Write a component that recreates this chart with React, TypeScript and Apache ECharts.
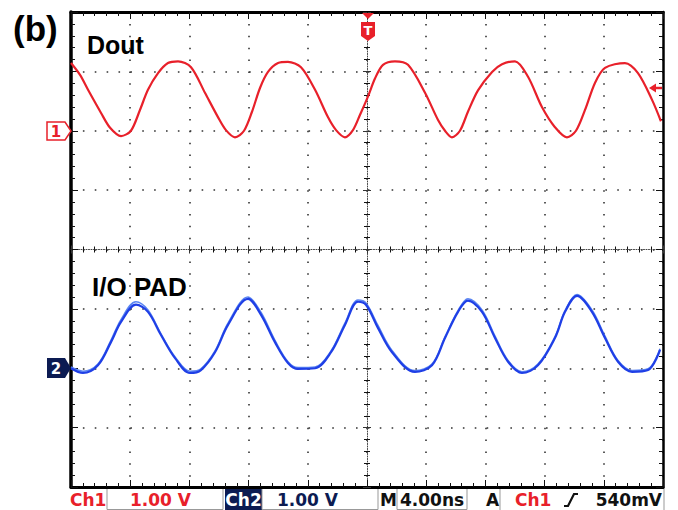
import React, { useEffect, useRef } from "react";
import * as echarts from "echarts";

// Time in ns (4 ns/div, trigger at centre), voltage in V (1 V/div)
const ch1Time = [-20.0, -19.39, -18.85, -17.97, -17.36, -16.62, -15.95, -15.34, -14.8, -14.12, -13.45, -12.77, -11.89, -10.95, -10.07, -9.53, -8.92, -8.31, -7.77, -7.23, -6.69, -6.01, -5.34, -4.46, -3.51, -2.64, -2.09, -1.49, -0.95, -0.47, 0.07, 0.54, 1.08, 1.89, 2.77, 3.92, 4.8, 5.27, 5.74, 6.28, 6.82, 7.5, 8.45, 9.12, 10.0, 10.88, 11.82, 12.7, 13.51, 14.12, 14.73, 15.41, 16.08, 17.43, 18.31, 19.26, 19.86];
const ch1Volt = [1.14, 0.94, 0.69, 0.3, 0.05, -0.09, 0.0, 0.35, 0.69, 0.97, 1.14, 1.17, 1.07, 0.64, 0.23, 0.01, -0.11, 0.0, 0.32, 0.72, 0.99, 1.14, 1.16, 1.07, 0.69, 0.23, 0.01, -0.11, 0.01, 0.27, 0.58, 0.88, 1.11, 1.17, 1.11, 0.64, 0.18, 0.0, -0.11, 0.0, 0.32, 0.68, 0.99, 1.12, 1.17, 0.91, 0.4, 0.06, -0.11, 0.0, 0.35, 0.81, 1.06, 1.14, 0.97, 0.52, 0.16];

const ch2Time = [-20.0, -19.19, -18.18, -17.3, -16.62, -15.61, -14.8, -13.92, -12.97, -11.96, -11.22, -10.27, -9.39, -8.04, -7.16, -6.22, -5.34, -4.66, -3.51, -2.43, -1.49, -0.61, -0.07, 0.74, 1.69, 3.24, 4.39, 5.27, 6.15, 6.82, 7.77, 8.65, 9.53, 10.47, 11.55, 12.7, 13.38, 14.19, 15.2, 16.08, 16.96, 17.91, 18.99, 19.8];
const ch2Volt = [0.0, -0.08, 0.05, 0.44, 0.78, 1.07, 0.95, 0.56, 0.17, -0.08, -0.03, 0.27, 0.73, 1.17, 0.9, 0.44, 0.09, -0.01, 0.0, 0.27, 0.73, 1.12, 1.07, 0.68, 0.27, -0.06, 0.05, 0.51, 0.95, 1.14, 0.95, 0.51, 0.11, -0.08, 0.05, 0.51, 0.95, 1.22, 0.95, 0.51, 0.11, -0.06, -0.03, 0.31];
const ch2GhostVolt = [0.02, -0.05, 0.07, 0.47, 0.82, 1.12, 0.98, 0.58, 0.19, -0.05, -0.01, 0.29, 0.76, 1.2, 0.94, 0.47, 0.11, 0.01, 0.02, 0.29, 0.76, 1.15, 1.1, 0.72, 0.3, -0.04, 0.07, 0.53, 0.97, 1.17, 0.98, 0.54, 0.13, -0.06, 0.07, 0.53, 0.97, 1.24, 0.98, 0.54, 0.13, -0.04, -0.01, 0.33];

const panelLabel = "(b)";
const ch1Name = "Dout";
const ch2Name = "I/O PAD";
const ch1Scale = "1.00 V";
const ch2Scale = "1.00 V";
const timeScale = "4.00ns";
const triggerLevel = "540mV";

const RED = "#e8202a";
const BLUE = "#1f3fe6";
const NAVY = "#0c1b52";

const GL = 71, GT = 12, GW = 592, GH = 475;

const dotGrid = { show: true, lineStyle: { color: "#333", width: 1.6, type: [1.6, 10.275] } };
const minor = (len: number) => ({ show: true, splitNumber: 5, length: len, lineStyle: { color: "#111", width: 1 } });

function xAx(extra: any) {
  return {
    type: "value", min: -20, max: 20, interval: 4,
    axisLabel: { show: false }, splitLine: { show: false },
    ...extra,
  };
}
function yAx(min: number, max: number, extra: any) {
  return {
    type: "value", min, max, interval: 1,
    axisLabel: { show: false }, splitLine: { show: false },
    ...extra,
  };
}

export default function App() {
  const ref = useRef<HTMLDivElement>(null);
  useEffect(() => {
    if (!ref.current) return;
    const chart = echarts.init(ref.current, undefined, { renderer: "svg" });
    const edgeLine = (w: number) => ({ show: true, onZero: false, lineStyle: { color: "#000", width: w } });
    const centerLine = { show: true, onZero: false, lineStyle: { color: "#444", width: 1, type: [1, 1.5] } };
    const option: any = {
      animation: false,
      backgroundColor: "#fff",
      grid: { left: GL, top: GT, width: GW, height: GH, containLabel: false },
      xAxis: [
        xAx({ position: "bottom", axisLine: edgeLine(3), axisTick: { show: true, inside: true, length: 7, lineStyle: { color: "#111" } }, minorTick: minor(4), splitLine: dotGrid }),
        xAx({ position: "top", axisLine: edgeLine(3), axisTick: { show: true, inside: true, length: 7, lineStyle: { color: "#111" } }, minorTick: minor(4) }),
        xAx({ position: "bottom", offset: -GH / 2, axisLine: centerLine, axisTick: { show: true, inside: true, length: 4, lineStyle: { color: "#333" } }, minorTick: minor(3) }),
        xAx({ position: "bottom", offset: -GH / 2, axisLine: { show: false }, axisTick: { show: true, inside: false, length: 4, lineStyle: { color: "#333" } }, minorTick: minor(3) }),
      ],
      yAxis: [
        yAx(-6, 2, { position: "left", axisLine: edgeLine(3.5), axisTick: { show: true, inside: true, length: 7, lineStyle: { color: "#111" } }, minorTick: minor(4), splitLine: dotGrid }),
        yAx(-2, 6, { show: false }),
        yAx(-4, 4, { position: "right", axisLine: edgeLine(2.5), axisTick: { show: true, inside: true, length: 7, lineStyle: { color: "#111" } }, minorTick: minor(4) }),
        yAx(-4, 4, { position: "left", offset: -GW / 2, axisLine: centerLine, axisTick: { show: true, inside: true, length: 4, lineStyle: { color: "#333" } }, minorTick: minor(3) }),
        yAx(-4, 4, { position: "left", offset: -GW / 2, axisLine: { show: false }, axisTick: { show: true, inside: false, length: 4, lineStyle: { color: "#333" } }, minorTick: minor(3) }),
      ],
      series: [
        {
          type: "line", name: ch1Name, xAxisIndex: 0, yAxisIndex: 0, showSymbol: false, smooth: 0.3,
          data: ch1Time.map((t, i) => [t, ch1Volt[i]]),
          lineStyle: { color: RED, width: 2.2 }, z: 5,
        },
        {
          type: "line", name: ch2Name + " (2)", xAxisIndex: 0, yAxisIndex: 1, showSymbol: false, smooth: 0.35,
          data: ch2Time.map((t, i) => [t, ch2GhostVolt[i]]),
          lineStyle: { color: "#5b86f2", width: 1.6 }, z: 4,
        },
        {
          type: "line", name: ch2Name, xAxisIndex: 0, yAxisIndex: 1, showSymbol: false, smooth: 0.35,
          data: ch2Time.map((t, i) => [t, ch2Volt[i]]),
          lineStyle: { color: BLUE, width: 2.2 }, z: 5,
        },
      ],
      graphic: [
        { type: "text", left: 13, top: 11, style: { text: panelLabel, font: 'bold 35px "Liberation Sans", Arial', fill: "#000" } },
        { type: "text", x: 87, y: 45, style: { text: ch1Name, font: 'bold 25px "Liberation Sans", Arial', fill: "#000", textVerticalAlign: "middle" } },
        { type: "text", x: 92, y: 287, style: { text: ch2Name, font: 'bold 26px "Liberation Sans", Arial', fill: "#000", textVerticalAlign: "middle" } },
        // channel 1 marker
        { type: "polygon", shape: { points: [[47, 122], [65, 122], [71, 131], [65, 140], [47, 140]] }, style: { fill: "#fff", stroke: RED, lineWidth: 1.5 }, z: 10 },
        { type: "text", x: 56, y: 131.5, style: { text: "1", font: 'bold 15px "DejaVu Sans"', fill: RED, textAlign: "center", textVerticalAlign: "middle" }, z: 11 },
        // channel 2 marker
        { type: "polygon", shape: { points: [[47, 358], [65, 358], [71, 368], [65, 378], [47, 378]] }, style: { fill: NAVY }, z: 10 },
        { type: "text", x: 56, y: 368.5, style: { text: "2", font: 'bold 15px "DejaVu Sans"', fill: "#fff", textAlign: "center", textVerticalAlign: "middle" }, z: 11 },
        // trigger position marker
        { type: "polygon", shape: { points: [[362, 13], [374, 13], [368, 19]] }, style: { fill: RED }, z: 10 },
        { type: "polygon", shape: { points: [[361, 22], [375, 22], [375, 36], [368, 41], [361, 36]] }, style: { fill: RED }, z: 10 },
        { type: "text", x: 368, y: 30, style: { text: "T", font: 'bold 13px "DejaVu Sans"', fill: "#fff", textAlign: "center", textVerticalAlign: "middle" }, z: 11 },
        // trigger level arrow
        { type: "polygon", shape: { points: [[649, 88], [656, 83.5], [656, 92.5]] }, style: { fill: RED }, z: 10 },
        { type: "line", shape: { x1: 655, y1: 88, x2: 662, y2: 88 }, style: { stroke: RED, lineWidth: 2.5 }, z: 10 },
        // status bar
        { type: "rect", shape: { x: 107, y: 488.5, width: 116, height: 21 }, style: { fill: "none", stroke: "#999", lineWidth: 1 } },
        { type: "rect", shape: { x: 225, y: 489, width: 37, height: 21 }, style: { fill: NAVY } },
        { type: "rect", shape: { x: 262, y: 488.5, width: 116, height: 21 }, style: { fill: "none", stroke: "#999", lineWidth: 1 } },
        { type: "rect", shape: { x: 397, y: 488.5, width: 70, height: 21 }, style: { fill: "none", stroke: "#999", lineWidth: 1 } },
        { type: "line", shape: { x1: 500, y1: 488, x2: 500, y2: 510 }, style: { stroke: "#999", lineWidth: 1 } },
        { type: "line", shape: { x1: 664, y1: 488, x2: 664, y2: 510 }, style: { stroke: "#999", lineWidth: 1 } },
        { type: "text", x: 70, y: 500, style: { text: "Ch1", font: 'bold 17px "DejaVu Sans"', fill: RED, textVerticalAlign: "middle" } },
        { type: "text", x: 130, y: 500, style: { text: ch1Scale, font: 'bold 17px "DejaVu Sans"', fill: RED, textVerticalAlign: "middle" } },
        { type: "text", x: 243.5, y: 500, style: { text: "Ch2", font: 'bold 17px "DejaVu Sans"', fill: "#fff", textAlign: "center", textVerticalAlign: "middle" } },
        { type: "text", x: 277, y: 500, style: { text: ch2Scale, font: 'bold 17px "DejaVu Sans"', fill: NAVY, textVerticalAlign: "middle" } },
        { type: "text", x: 380, y: 500, style: { text: "M", font: 'bold 17px "DejaVu Sans"', fill: "#111", textVerticalAlign: "middle" } },
        { type: "text", x: 400, y: 500, style: { text: timeScale, font: 'bold 17px "DejaVu Sans"', fill: "#111", textVerticalAlign: "middle" } },
        { type: "text", x: 486, y: 500, style: { text: "A", font: 'bold 17px "DejaVu Sans"', fill: "#111", textVerticalAlign: "middle" } },
        { type: "text", x: 515, y: 500, style: { text: "Ch1", font: 'bold 17px "DejaVu Sans"', fill: RED, textVerticalAlign: "middle" } },
        { type: "polyline", shape: { points: [[564, 506], [568, 506], [574, 494], [578, 494]] }, style: { stroke: "#111", lineWidth: 2.2, fill: "none" } },
        { type: "text", x: 662, y: 500, style: { text: triggerLevel, font: 'bold 17px "DejaVu Sans"', fill: "#111", textAlign: "right", textVerticalAlign: "middle" } },
      ],
    };
    chart.setOption(option);
    return () => chart.dispose();
  }, []);
  return (
    <div
      ref={ref}
      style={{ position: "fixed", left: 0, top: 0, width: 678, height: 510, background: "#fff" }}
    />
  );
}
